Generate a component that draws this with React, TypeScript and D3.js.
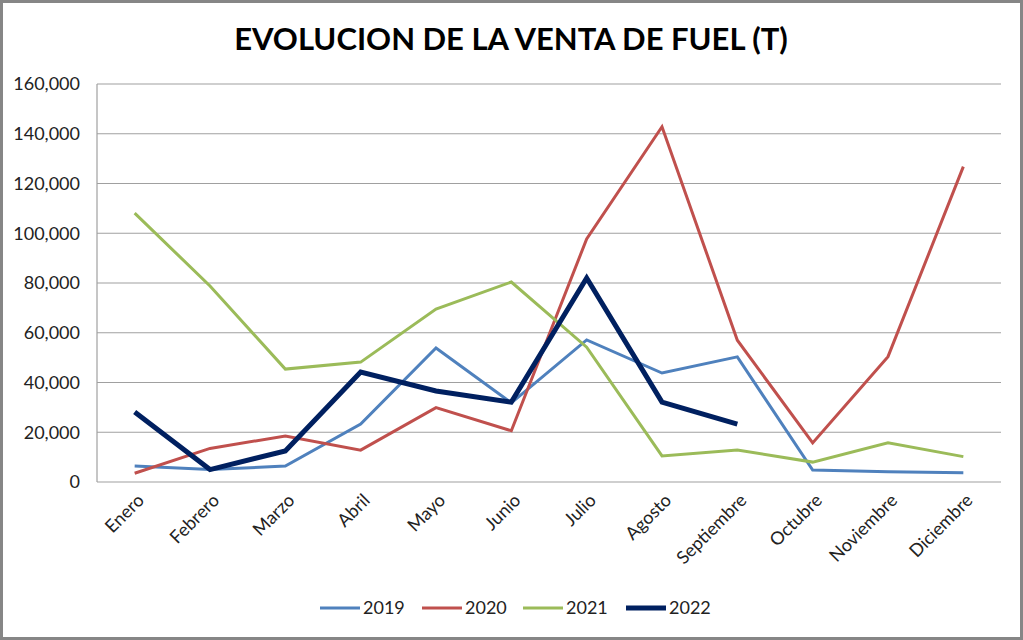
import { useEffect, useRef } from "react";
import * as d3 from "d3";

const months = [
  "Enero", "Febrero", "Marzo", "Abril", "Mayo", "Junio",
  "Julio", "Agosto", "Septiembre", "Octubre", "Noviembre", "Diciembre",
];

const y2019 = [6400, 5000, 6400, 23300, 53900, 31800, 57100, 43800, 50300, 4800, 4100, 3700];
const y2020 = [3500, 13500, 18500, 12800, 29900, 20600, 97700, 142800, 57000, 15700, 50400, 126800];
const y2021 = [108100, 78800, 45400, 48200, 69500, 80400, 54200, 10500, 12900, 8000, 15800, 10200];
const y2022 = [28100, 5000, 12500, 44200, 36600, 32100, 82000, 32100, 23300];

const yTicks = [0, 20000, 40000, 60000, 80000, 100000, 120000, 140000, 160000];

const series = [
  { name: "2019", values: y2019, color: "#4F81BD", width: 3 },
  { name: "2020", values: y2020, color: "#C0504D", width: 3 },
  { name: "2021", values: y2021, color: "#9BBB59", width: 3 },
  { name: "2022", values: y2022, color: "#002060", width: 5 },
];

export default function App() {
  const ref = useRef<SVGSVGElement | null>(null);

  useEffect(() => {
    document.body.style.margin = "0";
    const svg = d3.select(ref.current);
    svg.selectAll("*").remove();

    const width = 1023;
    const height = 640;
    const left = 97;
    const right = 1001;
    const top = 84;
    const bottom = 482;
    const font = "Lato, 'Open Sans', sans-serif";

    svg.attr("width", width).attr("height", height);

    svg
      .append("rect")
      .attr("x", 1.5)
      .attr("y", 1.5)
      .attr("width", width - 3)
      .attr("height", height - 3)
      .attr("fill", "#fff")
      .attr("stroke", "#868686")
      .attr("stroke-width", 3);

    svg
      .append("text")
      .attr("x", 511)
      .attr("y", 50)
      .attr("text-anchor", "middle")
      .attr("font-family", font)
      .attr("font-weight", "bold")
      .attr("font-size", 31)
      .attr("fill", "#000")
      .text("EVOLUCION DE LA VENTA DE FUEL (T)");

    const x = d3.scaleBand().domain(months).range([left, right]);
    const y = d3.scaleLinear().domain([0, 160000]).range([bottom, top]);

    const grid = svg.append("g");
    grid
      .selectAll("line")
      .data(yTicks)
      .enter()
      .append("line")
      .attr("x1", left)
      .attr("x2", right)
      .attr("y1", (d) => y(d))
      .attr("y2", (d) => y(d))
      .attr("stroke", "#A0A0A0")
      .attr("stroke-width", 1.2);

    svg
      .append("line")
      .attr("x1", left)
      .attr("x2", left)
      .attr("y1", top)
      .attr("y2", bottom)
      .attr("stroke", "#A0A0A0")
      .attr("stroke-width", 1.2);

    const fmt = d3.format(",");
    svg
      .append("g")
      .selectAll("text")
      .data(yTicks)
      .enter()
      .append("text")
      .attr("x", 80)
      .attr("y", (d) => y(d))
      .attr("dy", "0.35em")
      .attr("text-anchor", "end")
      .attr("font-family", font)
      .attr("font-size", 18)
      .attr("fill", "#222")
      .text((d) => fmt(d));

    svg
      .append("g")
      .selectAll("text")
      .data(months)
      .enter()
      .append("text")
      .attr("transform", (d) => `translate(${x(d)! + x.bandwidth() / 2 + 6}, ${bottom + 15}) rotate(-45)`)
      .attr("text-anchor", "end")
      .attr("dy", "0.35em")
      .attr("font-family", font)
      .attr("font-size", 18)
      .attr("fill", "#222")
      .text((d) => d);

    const line = d3
      .line<number>()
      .x((_, i) => x(months[i])! + x.bandwidth() / 2)
      .y((d) => y(d));

    series.forEach((s) => {
      svg
        .append("path")
        .datum(s.values)
        .attr("d", line)
        .attr("fill", "none")
        .attr("stroke", s.color)
        .attr("stroke-width", s.width)
        .attr("stroke-linejoin", "miter");
    });

    const legendX = [320, 422, 523, 626];
    const legend = svg
      .append("g")
      .selectAll("g")
      .data(series)
      .enter()
      .append("g")
      .attr("transform", (_, i) => `translate(${legendX[i]}, 608)`);
    legend
      .append("line")
      .attr("x1", 0)
      .attr("x2", 40)
      .attr("stroke", (d) => d.color)
      .attr("stroke-width", (d) => d.width);
    legend
      .append("text")
      .attr("x", 43)
      .attr("dy", "0.35em")
      .attr("font-family", font)
      .attr("font-size", 18)
      .attr("fill", "#222")
      .text((d) => d.name);
  }, []);

  return <svg ref={ref}></svg>;
}
